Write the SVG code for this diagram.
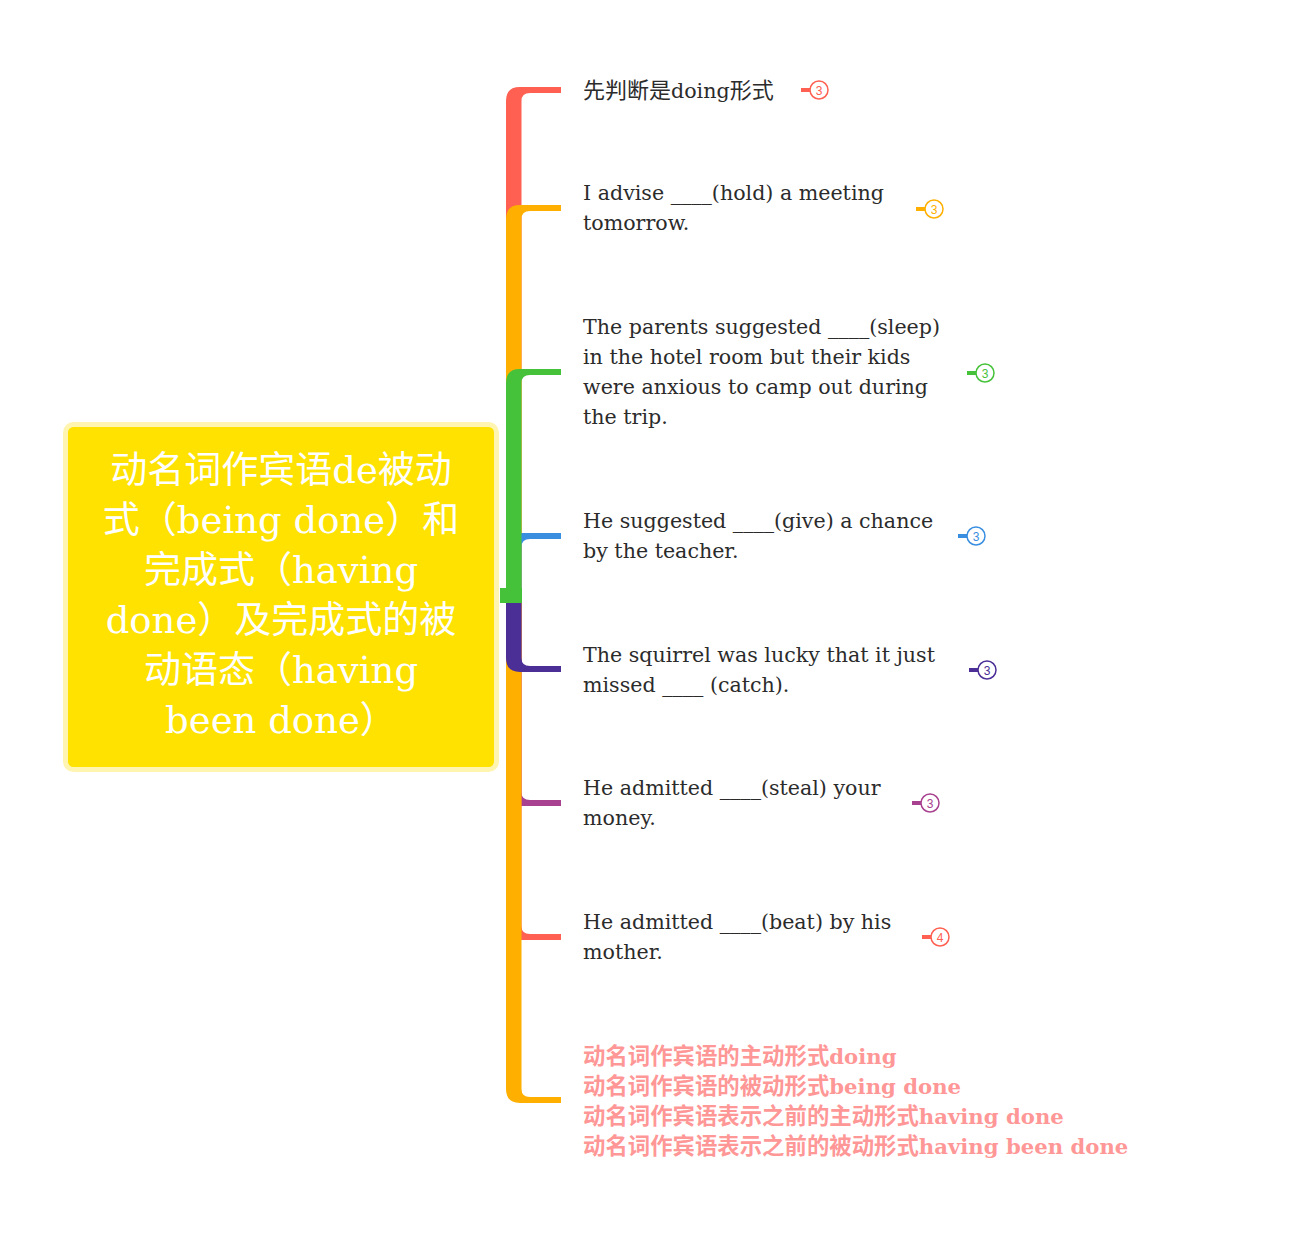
<svg xmlns="http://www.w3.org/2000/svg" width="1306" height="1236" viewBox="0 0 1306 1236">
<style>
.t{font-family:"DejaVu Serif","Noto Sans CJK SC",serif;font-size:20.6px;fill:#2b2b2b}
.c{font-size:22px}
.root{font-family:"DejaVu Serif","Noto Sans CJK SC",serif;font-size:37px;fill:#ffffff;text-anchor:middle}
.pk{font-family:"DejaVu Serif","Noto Sans CJK SC",serif;font-size:22.4px;font-weight:bold;fill:#FF9797}
.l{font-size:21.2px}
.bc{fill:#ffffff;stroke-width:1.5}
.bn{font-family:"Liberation Sans","Noto Sans",sans-serif;font-size:12px;text-anchor:middle}
</style>
<rect width="1306" height="1236" fill="#ffffff"/>
<g id="connectors">
<path fill="#FF6051" d="M506,596 V101 Q506,87 520,87 H561 V93 H530 Q521.5,93 521.5,101 V596 Z"/>
<path fill="#FFAF00" d="M506,596 V219 Q506,205 520,205 H561 V211 H530 Q521.5,211 521.5,219 V596 Z"/>
<path fill="#3A8EE0" d="M506,596 V547 Q506,533 520,533 H561 V539 H530 Q521.5,539 521.5,547 V596 Z"/>
<path fill="#46C23A" d="M506,596 V383 Q506,369 520,369 H561 V375 H530 Q521.5,375 521.5,383 V596 Z"/>
<path fill="#A8418F" d="M506,596 V792 Q506,806 520,806 H561 V800 H530 Q521.5,800 521.5,792 V596 Z"/>
<path fill="#FF6051" d="M506,596 V926 Q506,940 520,940 H561 V934 H530 Q521.5,934 521.5,926 V596 Z"/>
<path fill="#FFAF00" d="M506,596 V1089 Q506,1103 520,1103 H561 V1097 H530 Q521.5,1097 521.5,1089 V596 Z"/>
<path fill="#4B2E96" d="M506,596 V658 Q506,672 520,672 H561 V666 H530 Q521.5,666 521.5,658 V596 Z"/>
<rect x="500" y="588" width="22" height="15" fill="#46C23A"/>
</g>
<g id="root">
<rect x="65.5" y="424.5" width="431" height="345" rx="8" fill="#FFE200" stroke="#FFF4B0" stroke-width="5"/>
<text class="root" x="281" y="483">动名词作宾语de被动</text>
<text class="root" x="281" y="533">式（being done）和</text>
<text class="root" x="281" y="583">完成式（having</text>
<text class="root" x="281" y="633">done）及完成式的被</text>
<text class="root" x="281" y="683">动语态（having</text>
<text class="root" x="281" y="733">been done）</text>
</g>
<g id="n1">
<text class="t" x="583" y="98"><tspan class="c">先判断是</tspan>doing<tspan class="c">形式</tspan></text>
<rect x="801" y="88" width="9" height="4" fill="#FF6051"/>
<circle class="bc" cx="819" cy="90" r="9" stroke="#FF6051"/>
<text class="bn" x="819" y="94.5" fill="#FF6051">3</text>
</g>
<g id="n2">
<text class="t" x="583" y="200">I advise ____(hold) a meeting</text>
<text class="t" x="583" y="230">tomorrow.</text>
<rect x="916" y="207" width="9" height="4" fill="#FFAF00"/>
<circle class="bc" cx="934" cy="209" r="9" stroke="#FFAF00"/>
<text class="bn" x="934" y="213.5" fill="#FFAF00">3</text>
</g>
<g id="n3">
<text class="t" x="583" y="334">The parents suggested ____(sleep)</text>
<text class="t" x="583" y="364">in the hotel room but their kids</text>
<text class="t" x="583" y="394">were anxious to camp out during</text>
<text class="t" x="583" y="424">the trip.</text>
<rect x="967" y="371" width="9" height="4" fill="#46C23A"/>
<circle class="bc" cx="985" cy="373" r="9" stroke="#46C23A"/>
<text class="bn" x="985" y="377.5" fill="#46C23A">3</text>
</g>
<g id="n4">
<text class="t" x="583" y="528">He suggested ____(give) a chance</text>
<text class="t" x="583" y="558">by the teacher.</text>
<rect x="958" y="534" width="9" height="4" fill="#3A8EE0"/>
<circle class="bc" cx="976" cy="536" r="9" stroke="#3A8EE0"/>
<text class="bn" x="976" y="540.5" fill="#3A8EE0">3</text>
</g>
<g id="n5">
<text class="t" x="583" y="662">The squirrel was lucky that it just</text>
<text class="t" x="583" y="692">missed ____ (catch).</text>
<rect x="969" y="668" width="9" height="4" fill="#4B2E96"/>
<circle class="bc" cx="987" cy="670" r="9" stroke="#4B2E96"/>
<text class="bn" x="987" y="674.5" fill="#4B2E96">3</text>
</g>
<g id="n6">
<text class="t" x="583" y="795">He admitted ____(steal) your</text>
<text class="t" x="583" y="825">money.</text>
<rect x="912" y="801" width="9" height="4" fill="#A8418F"/>
<circle class="bc" cx="930" cy="803" r="9" stroke="#A8418F"/>
<text class="bn" x="930" y="807.5" fill="#A8418F">3</text>
</g>
<g id="n7">
<text class="t" x="583" y="929">He admitted ____(beat) by his</text>
<text class="t" x="583" y="959">mother.</text>
<rect x="922" y="935" width="9" height="4" fill="#FF6051"/>
<circle class="bc" cx="940" cy="937" r="9" stroke="#FF6051"/>
<text class="bn" x="940" y="941.5" fill="#FF6051">4</text>
</g>
<g id="n8">
<text class="pk" x="583" y="1064">动名词作宾语的主动形式<tspan class="l">doing</tspan></text>
<text class="pk" x="583" y="1094">动名词作宾语的被动形式<tspan class="l">being done</tspan></text>
<text class="pk" x="583" y="1124">动名词作宾语表示之前的主动形式<tspan class="l">having done</tspan></text>
<text class="pk" x="583" y="1154">动名词作宾语表示之前的被动形式<tspan class="l">having been done</tspan></text>
</g>
</svg>
